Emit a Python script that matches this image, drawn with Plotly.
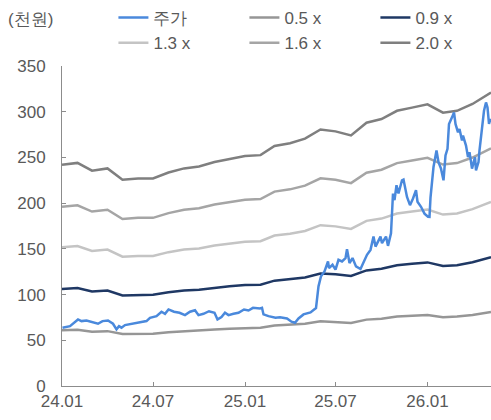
import plotly.graph_objects as go

# ---- Band data (monthly, P/B multiples) ----
band_dates = [
    "2024-01-01", "2024-02-01", "2024-03-01", "2024-04-01", "2024-05-01", "2024-06-01",
    "2024-07-01", "2024-08-01", "2024-09-01", "2024-10-01", "2024-11-01", "2024-12-01",
    "2025-01-01", "2025-02-01", "2025-03-01", "2025-04-01", "2025-05-01", "2025-06-01",
    "2025-07-01", "2025-08-01", "2025-09-01", "2025-10-01", "2025-11-01", "2025-12-01",
    "2026-01-01", "2026-02-01", "2026-03-01", "2026-04-01", "2026-05-08",
]
band_05 = [61, 61.5, 59.3, 60, 56.8, 57.2, 57.2, 58.8, 60, 60.5, 61.7, 62.6, 63.4, 63.6,
           66.2, 66.9, 68.2, 70.7, 70.2, 69, 72.6, 73.6, 75.9, 76.7, 77.6, 75.3, 75.9, 77.7, 80.9]
band_09 = [106.2, 107.1, 103.4, 104.5, 99, 99.7, 99.7, 102.5, 104.5, 105.4, 107.6, 109.1,
           110.4, 110.8, 115.2, 116.6, 118.7, 123.1, 122.3, 120.3, 126.4, 128.2, 132.1, 133.7,
           135.2, 131.3, 132.1, 135.4, 140.9]
band_13 = [151.7, 153, 147.7, 149.2, 141.4, 142.3, 142.3, 146.4, 149.2, 150.5, 153.6, 155.8,
           157.7, 158.3, 164.6, 166.5, 169.6, 175.9, 174.6, 171.8, 180.6, 183.1, 188.7, 190.9,
           193.1, 187.5, 188.7, 193.4, 201.3]
band_16 = [196, 197.6, 190.8, 192.8, 182.7, 183.9, 183.9, 189.1, 192.8, 194.4, 198.5, 201.3,
           203.7, 204.5, 212.6, 215.1, 219.1, 227.2, 225.6, 221.9, 233.3, 236.5, 243.8, 246.6,
           249.5, 242.2, 243.8, 249.9, 260]
band_20 = [242, 244, 235.5, 238, 225.5, 227, 227, 233.5, 238, 240, 245, 248.5, 251.5, 252.5,
           262.5, 265.5, 270.5, 280.5, 278.5, 274, 288, 292, 301, 304.5, 308, 299, 301, 308.5, 321]

# ---- Stock price (천원) ----
price_dates = [
    "2024-01-02", "2024-01-17", "2024-02-02", "2024-02-09", "2024-02-19", "2024-03-04",
    "2024-03-13", "2024-03-22", "2024-04-02", "2024-04-12", "2024-04-19", "2024-04-24",
    "2024-04-29", "2024-05-06", "2024-05-20", "2024-06-05", "2024-06-18", "2024-06-25",
    "2024-07-08", "2024-07-18", "2024-07-25", "2024-08-01", "2024-08-12", "2024-08-23",
    "2024-09-03", "2024-09-13", "2024-09-23", "2024-09-30", "2024-10-10", "2024-10-21",
    "2024-11-01", "2024-11-07", "2024-11-15", "2024-11-22", "2024-11-29", "2024-12-09",
    "2024-12-19", "2024-12-30", "2025-01-08", "2025-01-17", "2025-01-31", "2025-02-04",
    "2025-02-07", "2025-02-17", "2025-03-03", "2025-03-12", "2025-03-26", "2025-04-04",
    "2025-04-11", "2025-04-18", "2025-04-28", "2025-05-12", "2025-05-23", "2025-05-28",
    "2025-06-02", "2025-06-09", "2025-06-16", "2025-06-18", "2025-06-25", "2025-07-01",
    "2025-07-07", "2025-07-14", "2025-07-21", "2025-07-24", "2025-07-29", "2025-08-04",
    "2025-08-11", "2025-08-20", "2025-08-27", "2025-09-02", "2025-09-09", "2025-09-15",
    "2025-09-19", "2025-09-29", "2025-10-02", "2025-10-10", "2025-10-14", "2025-10-20",
    "2025-10-24", "2025-10-27", "2025-10-31", "2025-11-04", "2025-11-11", "2025-11-14",
    "2025-11-21", "2025-11-27", "2025-12-03", "2025-12-09", "2025-12-12", "2025-12-19",
    "2025-12-26", "2026-01-02", "2026-01-05", "2026-01-07", "2026-01-13", "2026-01-19",
    "2026-01-23", "2026-01-28", "2026-02-02", "2026-02-06", "2026-02-10", "2026-02-13",
    "2026-02-19", "2026-02-23", "2026-02-26", "2026-03-03", "2026-03-06", "2026-03-11",
    "2026-03-13", "2026-03-19", "2026-03-23", "2026-03-26", "2026-03-31", "2026-04-06",
    "2026-04-08", "2026-04-13", "2026-04-15", "2026-04-20", "2026-04-22", "2026-04-24",
    "2026-04-28", "2026-05-01", "2026-05-04", "2026-05-06", "2026-05-08",
]
price = [
    63.8, 65.5, 72.8, 71, 71.7, 69.2,
    68.1, 71, 71.7, 68.1, 62, 65.5,
    63.8, 66.6, 68.1, 69.2, 71, 74.6,
    76.4, 81.2, 79, 83.7, 81.2, 80.1,
    77.5, 81.2, 82.9, 77.5, 79, 81.8,
    80.1, 72.8, 75.3, 80.1, 77.5, 79,
    80.1, 83.7, 82.6, 85.5, 84.8, 85.5,
    78.3, 76.4, 74.6, 75.3, 73.9, 70.3,
    69.2, 73.9, 78.3, 80.5, 85.2, 109,
    120, 125.3, 136.2, 129, 132.6, 127.2,
    138, 136.2, 139.9, 149.7, 134.5, 139.9,
    130.8, 127.9, 136.2, 143.5, 148.9, 163.4,
    152.5, 163.4, 156.2, 163.4, 153.3, 167,
    210.5, 203.3, 219.6, 210.5, 225, 225.8,
    206.8, 197.8, 205.1, 214.1, 201.5, 196,
    188.5, 185.1, 185, 206, 239.5, 257.6,
    244.9, 237.7, 225, 252.2, 259.5, 286.6,
    293.8, 299.2, 286.6, 277.5, 281.2, 268.5,
    273.9, 263, 250.3, 255.8, 237.7, 250.3,
    235.9, 244.9, 257.6, 282.9, 288.4, 301,
    310.1, 304.7, 286.6, 292, 288.4,
]

x_tick_vals = ["2024-01-01", "2024-07-01", "2025-01-01", "2025-07-01", "2026-01-01"]
x_tick_text = ["24.01", "24.07", "25.01", "25.07", "26.01"]
y_tick_vals = [0, 50, 100, 150, 200, 250, 300, 350]

FONT = "Liberation Sans, Arial, sans-serif"
TXT = "#595959"

bands = [
    ("0.5 x", band_05, "#969696", 2),
    ("0.9 x", band_09, "#1F3864", 3),
    ("1.3 x", band_13, "#C4C4C4", 4),
    ("1.6 x", band_16, "#A5A5A5", 5),
    ("2.0 x", band_20, "#7F7F7F", 6),
]

fig = go.Figure()
for name, vals, color, rank in bands:
    fig.add_trace(go.Scatter(
        x=band_dates, y=vals, name=name, mode="lines",
        line=dict(color=color, width=2.5), legendrank=rank,
    ))
fig.add_trace(go.Scatter(
    x=price_dates, y=price, name="주가", mode="lines",
    line=dict(color="#4A89DC", width=2.5), legendrank=1,
))

fig.update_layout(
    width=491, height=420,
    margin=dict(l=62, r=0, t=66, b=34, autoexpand=False),
    paper_bgcolor="white", plot_bgcolor="white",
    font=dict(family=FONT, size=17, color=TXT),
    showlegend=True,
    legend=dict(
        orientation="h", xref="container", yref="container",
        x=0.231, y=1.0, xanchor="left", yanchor="top",
        entrywidth=86, entrywidthmode="pixels",
        font=dict(family=FONT, size=17, color=TXT),
        bgcolor="rgba(0,0,0,0)", itemwidth=30,
        tracegroupgap=0,
    ),
    annotations=[dict(
        text="(천원)", xref="paper", yref="paper", x=-0.131, y=1.144,
        xanchor="left", yanchor="middle", showarrow=False,
        font=dict(family=FONT, size=17, color=TXT),
    )],
)

fig.update_xaxes(
    type="date", range=["2024-01-01", "2026-05-08"],
    tickvals=x_tick_vals, ticktext=x_tick_text,
    showgrid=False, zeroline=False,
    showline=True, linecolor="#8C8C8C", linewidth=1,
    ticks="inside", ticklen=4, tickcolor="#8C8C8C",
    tickfont=dict(family=FONT, size=17, color=TXT),
)
fig.update_yaxes(
    range=[0, 350], tickvals=y_tick_vals,
    showgrid=False, zeroline=False,
    showline=True, linecolor="#8C8C8C", linewidth=1,
    ticks="inside", ticklen=4, tickcolor="#8C8C8C",
    tickfont=dict(family=FONT, size=17, color=TXT),
    ticklabelstandoff=12,
)

fig.write_html(
    "out.html",
    config={"displayModeBar": False},
    post_script="document.body.style.margin='0';",
)
